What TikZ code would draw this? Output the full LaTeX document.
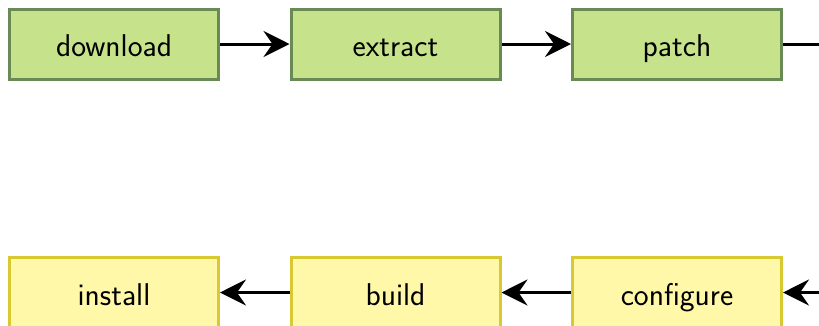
\documentclass[tikz,border=0pt]{standalone}
\usetikzlibrary{arrows.meta}
\definecolor{gfill}{HTML}{C6E38B}
\definecolor{gdraw}{HTML}{6A8A55}
\definecolor{yfill}{HTML}{FFF8A8}
\definecolor{ydraw}{HTML}{D8C932}
\tikzset{
  stagebox/.style={rectangle, minimum width=209pt, minimum height=70pt, line width=3pt,
    font=\fontsize{31.5}{38}\selectfont\sffamily, inner sep=0pt, text height=25pt, text depth=0pt},
  greenbox/.style={stagebox, fill=gfill, draw=gdraw},
  yellowbox/.style={stagebox, fill=yfill, draw=ydraw},
  flow/.style={line width=3pt, -{Stealth[length=26pt,width=26pt,inset=9pt]}},
}
\begin{document}
\begin{tikzpicture}[x=1pt,y=-1pt]
\useasboundingbox (0,0) rectangle (819,325);
\node[greenbox] (download) at (114,44) {download};
\node[greenbox] (extract) at (395.5,44) {extract};
\node[greenbox] (patch) at (677,44) {patch};
\node[yellowbox] (install) at (114,292.5) {install};
\node[yellowbox] (build) at (395.5,292.5) {build};
\node[yellowbox] (configure) at (677,292.5) {configure};
\draw[flow] (download) -- (extract);
\draw[flow] (extract) -- (patch);
\draw[flow] (patch.east) -- ++(37.5,0) |- (configure.east);
\draw[flow] (configure) -- (build);
\draw[flow] (build) -- (install);
\end{tikzpicture}
\end{document}
